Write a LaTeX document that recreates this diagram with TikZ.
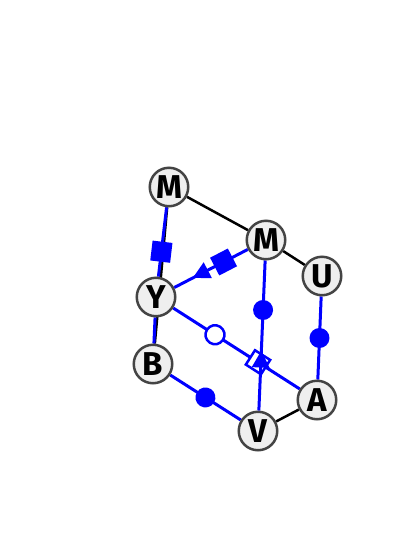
\documentclass[tikz,border=0pt]{standalone}
\usepackage{fontspec}
\setsansfont{Fira Sans}
\usepackage{tikz}
\usetikzlibrary{arrows.meta}
\usetikzlibrary{decorations.markings}
\definecolor{nodegray}{HTML}{EFEFEF}
\definecolor{rimgray}{HTML}{444444}
\pgfdeclarelayer{bg}
\pgfsetlayers{bg,main}
\tikzset{
    vert/.style={circle, draw=rimgray, fill=nodegray, line width=2.5pt, minimum size=38.5pt, inner sep=0pt,
        font=\sffamily\bfseries\fontsize{33}{33}\selectfont},
    link/.style={draw=black, line width=2.5pt},
    blink/.style={draw=blue, line width=3pt},
    dotat/.style={postaction={decorate, decoration={markings,
        mark=at position #1 with {\fill[blue] (0,0) circle (10pt);}}}},
    ringat/.style={postaction={decorate, decoration={markings,
        mark=at position #1 with {\filldraw[draw=blue, fill=white, line width=2.5pt] (0,0) circle (9.5pt);}}}},
    boxat/.style={postaction={decorate, decoration={markings,
        mark=at position #1 with {\fill[blue] (-10pt,-10pt) rectangle (10pt,10pt);}}}},
    openboxat/.style={postaction={decorate, decoration={markings,
        mark=at position #1 with {\filldraw[draw=blue, fill=white, line width=2.5pt] (-9pt,-8.5pt) rectangle (9pt,8.5pt);}}}},
    tipat/.style={postaction={decorate, decoration={markings,
        mark=at position #1 with {\arrow[blue]{Triangle[length=17pt,width=17pt]}}}}},
    backtipat/.style={postaction={decorate, decoration={markings,
        mark=at position #1 with {\arrowreversed[blue]{Triangle[length=17pt,width=17pt]}}}}},
}

\begin{document}
\begin{tikzpicture}[x=1pt, y=-1pt]
	\useasboundingbox (0,0) rectangle (400,542);
	\node[vert] (M1) at (169,187) {M};
	\node[vert] (M2) at (266,240) {M};
	\node[vert] (U) at (322,276) {U};
	\node[vert] (Y) at (156,297) {Y};
	\node[vert] (B) at (153,364) {B};
	\node[vert] (A) at (317,400) {A};
	\node[vert] (V) at (258,431) {V};
\begin{pgfonlayer}{bg}
	\draw[link] (M1)--(M2);
	\draw[link] (M2)--(U);
	\draw[link] (V)--(A);
	\draw[link] (M1)--(B);
	\draw[blink, boxat=0.64] (M1)--(Y);
	\draw[blink] (Y)--(B);
	\draw[blink, dotat=0.5] (B)--(V);
	\draw[blink, dotat=0.5] (U)--(A);
	\draw[blink, boxat=0.33, tipat=0.75] (M2)--(Y);
	\draw[blink, ringat=0.33, openboxat=0.67] (Y)--(A);
	\draw[blink, dotat=0.33, backtipat=0.60] (M2)--(V);
\end{pgfonlayer}
\end{tikzpicture}
\end{document}
